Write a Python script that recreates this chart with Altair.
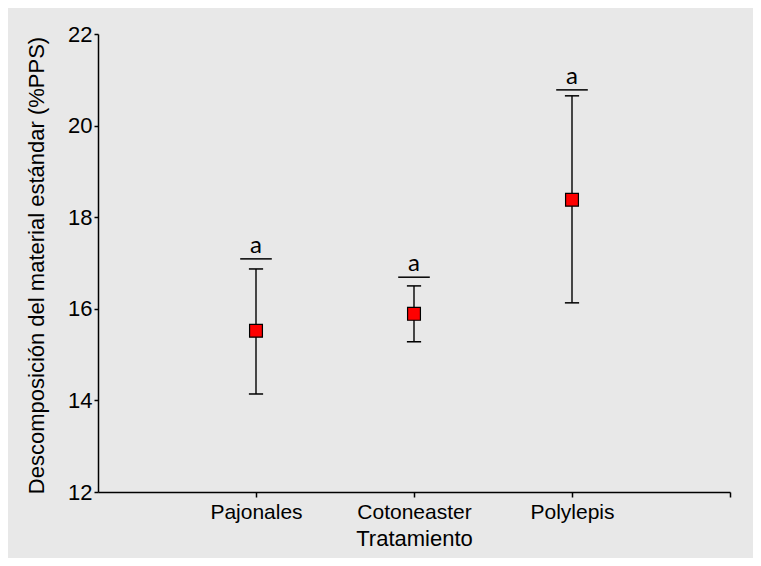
import altair as alt
import pandas as pd

categories = ["Pajonales", "Cotoneaster", "Polylepis"]
positions = [1, 2, 3]
means = [15.52, 15.89, 18.38]
lower = [14.14, 15.28, 16.13]
upper = [16.87, 16.50, 20.65]
letter_line = [17.09, 16.69, 20.78]
letters = ["a", "a", "a"]

cap_half = 0.045
line_half = 0.1

df = pd.DataFrame({
    "cat": categories, "x": positions, "mean": means, "lo": lower, "hi": upper,
    "ll": letter_line, "letter": letters,
})
df["cx1"] = df["x"] - cap_half
df["cx2"] = df["x"] + cap_half
df["lx1"] = df["x"] - line_half
df["lx2"] = df["x"] + line_half

label_expr = ("datum.value == 1 ? 'Pajonales' : datum.value == 2 ? 'Cotoneaster' : "
              "datum.value == 3 ? 'Polylepis' : ''")

xscale = alt.Scale(domain=[0, 4], nice=False, zero=False)
yscale = alt.Scale(domain=[12, 22], nice=False, zero=False)

x_axis = alt.Axis(values=[1, 2, 3, 4], labelExpr=label_expr, title="Tratamiento",
                  grid=False, labelFont="Liberation Sans", labelFontSize=21,
                  labelColor="black", titleFont="Liberation Sans", titleFontSize=22,
                  titleFontWeight="normal", titleColor="black", tickSize=5,
                  domainColor="black", tickColor="black", labelPadding=4,
                  titlePadding=6, domainWidth=1.5, tickWidth=1.5, labelFlush=False)
y_axis = alt.Axis(values=[12, 14, 16, 18, 20, 22], title="Descomposición del material estándar (%PPS)",
                  grid=False, labelFont="Liberation Sans", labelFontSize=22,
                  labelColor="black", titleFont="Liberation Sans", titleFontSize=22,
                  titleFontWeight="normal", titleColor="black", tickSize=4,
                  domainColor="black", tickColor="black", labelPadding=2,
                  titleX=-50, titleY=231, domainWidth=1.5, tickWidth=1.5)

base = alt.Chart(df)

err = base.mark_rule(color="black", strokeWidth=1.4).encode(
    x=alt.X("x:Q", scale=xscale, axis=x_axis),
    y=alt.Y("lo:Q", scale=yscale, axis=y_axis),
    y2="hi:Q",
)
cap_lo = base.mark_rule(color="black", strokeWidth=1.5).encode(
    x=alt.X("cx1:Q", scale=xscale), x2="cx2:Q", y=alt.Y("lo:Q", scale=yscale))
cap_hi = base.mark_rule(color="black", strokeWidth=1.5).encode(
    x=alt.X("cx1:Q", scale=xscale), x2="cx2:Q", y=alt.Y("hi:Q", scale=yscale))
lline = base.mark_rule(color="black", strokeWidth=1.5).encode(
    x=alt.X("lx1:Q", scale=xscale), x2="lx2:Q", y=alt.Y("ll:Q", scale=yscale))
txt = base.mark_text(font="Lato", fontSize=24, color="black", baseline="bottom", dy=-1).encode(
    x=alt.X("x:Q", scale=xscale), y=alt.Y("ll:Q", scale=yscale), text="letter:N")
pts = base.mark_point(shape="square", filled=True, fill="#ff0000", stroke="black",
                      strokeWidth=1.2, size=165, opacity=1).encode(
    x=alt.X("x:Q", scale=xscale), y=alt.Y("mean:Q", scale=yscale))

chart = alt.layer(err, cap_lo, cap_hi, lline, txt, pts).properties(
    width=632, height=458,
    autosize=alt.AutoSizeParams(type="none"),
    padding={"left": 90, "top": 26, "right": 23, "bottom": 66},
    background="#e8e8e8",
).configure_view(stroke=None)

chart.save("out.html", embed_options={"renderer": "svg", "actions": False})
